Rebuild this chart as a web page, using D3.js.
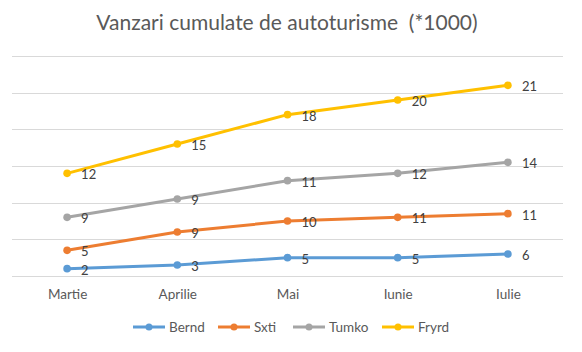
<!DOCTYPE html>
<html lang="ro">
  <head>
    <meta charset="utf-8">
    <title>Vanzari cumulate</title>
    <style>
      body { margin: 0; background: #fff; }
      svg { display: block; }
    </style>
    <script src="https://d3js.org/d3.v7.min.js"></script>
  </head>
  <body>
    <div class="chart"></div>
    <script>

    const months = ["Martie", "Aprilie", "Mai", "Iunie", "Iulie"];
    const seriesNames = ["Bernd", "Sxti", "Tumko", "Fryrd"];
    const bernd = [2, 3, 5, 5, 6];
    const sxti = [5, 9, 10, 11, 11];
    const tumko = [9, 9, 11, 12, 14];
    const fryrd = [12, 15, 18, 20, 21];
    const yTicks = [0, 10, 20, 30, 40, 50, 60];

    const colors = ["#5b9bd5", "#ed7d31", "#a5a5a5", "#ffc000"];
    const font = "Lato, 'Open Sans', sans-serif";

    const width = 582, height = 352;
    const plot = { left: 12, right: 563, top: 56, bottom: 276 };

    // stacked line chart: each line sits on the sum of the ones below
    const rows = months.map((m, i) => ({
      month: m, Bernd: bernd[i], Sxti: sxti[i], Tumko: tumko[i], Fryrd: fryrd[i]
    }));
    const stacked = d3.stack().keys(seriesNames)(rows);

    const x = d3.scalePoint()
      .domain(months)
      .range([plot.left, plot.right])
      .padding(0.5);

    const y = d3.scaleLinear()
      .domain([0, 60])
      .range([plot.bottom, plot.top]);

    const color = d3.scaleOrdinal().domain(seriesNames).range(colors);

    const svg = d3.select(".chart")
      .append("svg")
      .attr("width", width)
      .attr("height", height);

    svg.append("text")
      .attr("x", 287)
      .attr("y", 30)
      .attr("text-anchor", "middle")
      .attr("xml:space", "preserve")
      .style("font-family", font)
      .style("font-size", "21px")
      .style("fill", "#595959")
      .text("Vanzari cumulate de autoturisme  (*1000)");

    // gridlines
    svg.append("g")
      .selectAll("line")
      .data(yTicks)
      .join("line")
      .attr("x1", plot.left)
      .attr("x2", plot.right)
      .attr("y1", d => Math.round(y(d)) + 0.5)
      .attr("y2", d => Math.round(y(d)) + 0.5)
      .attr("stroke", "#d9d9d9")
      .attr("stroke-width", 1);

    // category labels
    svg.append("g")
      .attr("transform", `translate(0,${plot.bottom})`)
      .call(d3.axisBottom(x).tickSize(0).tickPadding(13))
      .call(g => g.select(".domain").remove())
      .selectAll("text")
      .style("font-family", font)
      .style("font-size", "13.5px")
      .style("fill", "#595959");

    const line = d3.line()
      .x(d => x(d.data.month))
      .y(d => y(d[1]));

    const series = svg.append("g")
      .selectAll("g")
      .data(stacked)
      .join("g");

    series.append("path")
      .attr("d", line)
      .attr("fill", "none")
      .attr("stroke", d => color(d.key))
      .attr("stroke-width", 3)
      .attr("stroke-linejoin", "round")
      .attr("stroke-linecap", "round");

    series.selectAll("circle")
      .data(d => d.map(p => ({ p, key: d.key })))
      .join("circle")
      .attr("cx", d => x(d.p.data.month))
      .attr("cy", d => y(d.p[1]))
      .attr("r", 3.8)
      .attr("fill", d => color(d.key));

    series.selectAll("text")
      .data(d => d.map(p => ({ p, key: d.key })))
      .join("text")
      .attr("x", d => x(d.p.data.month) + 14)
      .attr("y", d => y(d.p[1]) + 6)
      .style("font-family", font)
      .style("font-size", "13px")
      .style("fill", "#404040")
      .text(d => d.p.data[d.key]);

    // legend
    const legendX = [133, 218, 293, 382];
    const legend = svg.append("g")
      .selectAll("g")
      .data(seriesNames)
      .join("g")
      .attr("transform", (d, i) => `translate(${legendX[i]},327)`);

    legend.append("line")
      .attr("x1", 0)
      .attr("x2", 32)
      .attr("stroke", d => color(d))
      .attr("stroke-width", 3);

    legend.append("circle")
      .attr("cx", 16)
      .attr("r", 3.5)
      .attr("fill", d => color(d));

    legend.append("text")
      .attr("x", 36)
      .attr("y", 5)
      .style("font-family", font)
      .style("font-size", "13.5px")
      .style("fill", "#595959")
      .text(d => d);

    </script>
  </body>
</html>
